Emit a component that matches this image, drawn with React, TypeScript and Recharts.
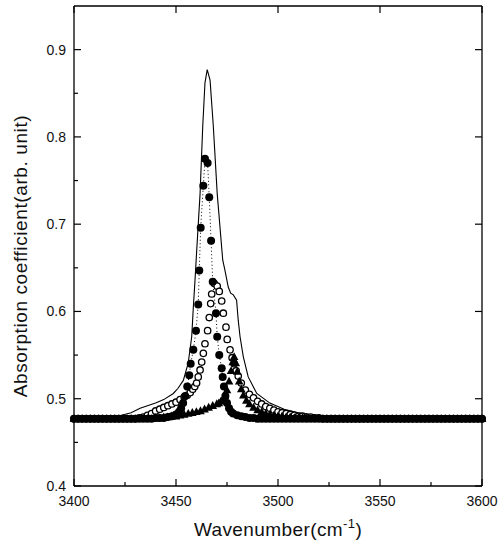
import React from 'react';
import { ComposedChart, Line, XAxis, YAxis } from 'recharts';

const wavenumberMajorTicks = [3400, 3450, 3500, 3550, 3600];
const wavenumberMinorTicks = [3425, 3475, 3525, 3575];
const absorptionMajorTicks = [0.4, 0.5, 0.6, 0.7, 0.8, 0.9];
const absorptionMinorTicks = [0.45, 0.55, 0.65, 0.75, 0.85];

// solid thin line [wavenumber, absorption]
const solidLine: [number, number][] = [
  [3400, 0.477], [3420, 0.479], [3428, 0.484], [3432.4, 0.489], [3440, 0.495], [3444, 0.499],
  [3448.7, 0.506], [3451, 0.512], [3453.6, 0.521], [3456, 0.541], [3457.7, 0.571], [3458.5, 0.605],
  [3459.3, 0.635], [3460.1, 0.668], [3461.8, 0.735], [3463.1, 0.812], [3464.2, 0.862], [3465.3, 0.877],
  [3466.7, 0.865], [3468.3, 0.812], [3470.2, 0.735], [3472.9, 0.659], [3474, 0.647], [3475.6, 0.628],
  [3476.8, 0.621], [3478.1, 0.619], [3479.7, 0.613], [3480.5, 0.590], [3481.4, 0.571], [3483, 0.548],
  [3485.4, 0.525], [3489.6, 0.506], [3496, 0.495], [3503, 0.488], [3510, 0.484], [3518, 0.481],
  [3528, 0.478], [3545, 0.477], [3600, 0.477],
];

// filled circles joined by a dotted line
const filledCircles: [number, number][] = [
  [3400, 0.477], [3402, 0.477], [3404, 0.477], [3406, 0.477], [3408, 0.477], [3410, 0.477], [3412, 0.477],
  [3414, 0.477], [3416, 0.477], [3418, 0.477], [3420, 0.477], [3422, 0.477], [3424, 0.477], [3426, 0.477],
  [3428, 0.477], [3430, 0.477], [3432, 0.477], [3434, 0.477], [3436, 0.477], [3438, 0.477], [3440, 0.478],
  [3442, 0.478], [3444, 0.478], [3446, 0.479], [3448, 0.480], [3450, 0.482], [3451.5, 0.485], [3452.5, 0.489],
  [3453.5, 0.495], [3454.5, 0.503], [3455.5, 0.514], [3456.5, 0.527], [3457.2, 0.540], [3458.5, 0.556],
  [3459.8, 0.578], [3460.9, 0.608], [3461.4, 0.647], [3462.1, 0.696], [3463.4, 0.744], [3464.2, 0.775],
  [3465.5, 0.770], [3466.3, 0.731], [3467.2, 0.681], [3468.0, 0.634], [3469.6, 0.598], [3470.2, 0.571],
  [3471.2, 0.550], [3472.4, 0.535], [3472.9, 0.525], [3473.5, 0.514], [3474.2, 0.503], [3475, 0.495],
  [3476, 0.489], [3477, 0.485], [3478, 0.483], [3480, 0.481], [3482, 0.480], [3484, 0.479], [3486, 0.478],
  [3488, 0.478], [3490, 0.477], [3492, 0.477], [3494, 0.477], [3496, 0.477], [3498, 0.477], [3500, 0.477],
  [3502, 0.477], [3504, 0.477], [3506, 0.477], [3508, 0.477], [3510, 0.477], [3512, 0.477], [3514, 0.477],
  [3516, 0.477], [3518, 0.477], [3520, 0.477], [3522, 0.477], [3524, 0.477], [3526, 0.477], [3528, 0.477],
  [3530, 0.477], [3532, 0.477], [3534, 0.477], [3536, 0.477], [3538, 0.477], [3540, 0.477], [3542, 0.477],
  [3544, 0.477], [3546, 0.477], [3548, 0.477], [3550, 0.477], [3552, 0.477], [3554, 0.477], [3556, 0.477],
  [3558, 0.477], [3560, 0.477], [3562, 0.477], [3564, 0.477], [3566, 0.477], [3568, 0.477], [3570, 0.477],
  [3572, 0.477], [3574, 0.477], [3576, 0.477], [3578, 0.477], [3580, 0.477], [3582, 0.477], [3584, 0.477],
  [3586, 0.477], [3588, 0.477], [3590, 0.477], [3592, 0.477], [3594, 0.477], [3596, 0.477], [3598, 0.477],
  [3600, 0.477],
];

// open circles
const openCircles: [number, number][] = [
  [3400, 0.477], [3402, 0.477], [3404, 0.477], [3406, 0.477], [3408, 0.477], [3410, 0.477], [3412, 0.477],
  [3414, 0.477], [3416, 0.477], [3418, 0.477], [3420, 0.477], [3422, 0.477], [3424, 0.477], [3426, 0.477],
  [3428, 0.477], [3430, 0.477], [3432, 0.478], [3434, 0.479], [3436, 0.481], [3438, 0.483], [3440, 0.486],
  [3442, 0.488], [3444, 0.490], [3446, 0.492], [3448, 0.494], [3450, 0.496], [3452, 0.499], [3454, 0.502],
  [3455.5, 0.504], [3457, 0.507], [3458.2, 0.511], [3459.2, 0.514], [3460.1, 0.518], [3460.9, 0.525],
  [3461.8, 0.533], [3462.6, 0.542], [3463.4, 0.552], [3464.2, 0.563], [3465.5, 0.578], [3466.3, 0.593],
  [3467.0, 0.609], [3467.5, 0.620], [3468.8, 0.632], [3470.2, 0.629], [3471.2, 0.623], [3472.4, 0.612],
  [3473.2, 0.598], [3474.5, 0.582], [3475.1, 0.568], [3476.5, 0.556], [3477.5, 0.547], [3478.5, 0.540],
  [3479.5, 0.532], [3480.5, 0.526], [3482, 0.518], [3484, 0.510], [3486, 0.505], [3488, 0.501],
  [3490, 0.497], [3492, 0.494], [3494, 0.491], [3496, 0.489], [3498, 0.487], [3500, 0.485], [3502, 0.484],
  [3504, 0.483], [3506, 0.482], [3508, 0.481], [3510, 0.480], [3512, 0.480], [3514, 0.479], [3516, 0.479],
  [3518, 0.478], [3520, 0.478], [3522, 0.477], [3524, 0.477], [3526, 0.477], [3528, 0.477], [3530, 0.477],
  [3532, 0.477], [3534, 0.477], [3536, 0.477], [3538, 0.477], [3540, 0.477], [3542, 0.477], [3544, 0.477],
  [3546, 0.477], [3548, 0.477], [3550, 0.477], [3552, 0.477], [3554, 0.477], [3556, 0.477], [3558, 0.477],
  [3560, 0.477], [3562, 0.477], [3564, 0.477], [3566, 0.477], [3568, 0.477], [3570, 0.477], [3572, 0.477],
  [3574, 0.477], [3576, 0.477], [3578, 0.477], [3580, 0.477], [3582, 0.477], [3584, 0.477], [3586, 0.477],
  [3588, 0.477], [3590, 0.477], [3592, 0.477], [3594, 0.477], [3596, 0.477], [3598, 0.477], [3600, 0.477],
];

// filled triangles
const filledTriangles: [number, number][] = [
  [3400, 0.477], [3402, 0.477], [3404, 0.477], [3406, 0.477], [3408, 0.477], [3410, 0.477], [3412, 0.477],
  [3414, 0.477], [3416, 0.477], [3418, 0.477], [3420, 0.477], [3422, 0.477], [3424, 0.477], [3426, 0.477],
  [3428, 0.477], [3430, 0.477], [3432, 0.477], [3434, 0.477], [3436, 0.477], [3438, 0.477], [3440, 0.478],
  [3442, 0.478], [3444, 0.479], [3446, 0.479], [3448, 0.480], [3450, 0.480], [3452, 0.481], [3454, 0.482],
  [3456, 0.483], [3458, 0.484], [3460, 0.485], [3462, 0.486], [3464, 0.488], [3466, 0.490], [3468, 0.492],
  [3470, 0.494], [3471, 0.495], [3472, 0.497], [3473, 0.499], [3474, 0.503], [3475, 0.510], [3476, 0.520],
  [3477, 0.532], [3477.8, 0.542], [3478.5, 0.548], [3479.3, 0.541], [3480, 0.531], [3481, 0.520],
  [3482, 0.511], [3483, 0.504], [3484.5, 0.498], [3486, 0.494], [3488, 0.490], [3490, 0.487], [3492, 0.485],
  [3494, 0.483], [3496, 0.482], [3498, 0.481], [3500, 0.480], [3502, 0.480], [3504, 0.479], [3506, 0.479],
  [3508, 0.478], [3510, 0.478], [3512, 0.478], [3514, 0.478], [3516, 0.477], [3518, 0.477], [3520, 0.477],
  [3522, 0.477], [3524, 0.477], [3526, 0.477], [3528, 0.477], [3530, 0.477], [3532, 0.477], [3534, 0.477],
  [3536, 0.477], [3538, 0.477], [3540, 0.477], [3542, 0.477], [3544, 0.477], [3546, 0.477], [3548, 0.477],
  [3550, 0.477], [3552, 0.477], [3554, 0.477], [3556, 0.477], [3558, 0.477], [3560, 0.477], [3562, 0.477],
  [3564, 0.477], [3566, 0.477], [3568, 0.477], [3570, 0.477], [3572, 0.477], [3574, 0.477], [3576, 0.477],
  [3578, 0.477], [3580, 0.477], [3582, 0.477], [3584, 0.477], [3586, 0.477], [3588, 0.477], [3590, 0.477],
  [3592, 0.477], [3594, 0.477], [3596, 0.477], [3598, 0.477], [3600, 0.477],
];

const toRows = (pts: [number, number][]) => pts.map(([wn, a]) => ({ wn, a }));

const FONT = '"Liberation Sans", Arial, Helvetica, sans-serif';
const INK = '#000';
const GAP = 8;
const MAJOR = 7;
const MINOR = 4;

const BottomTick = (props: any) => {
  const { x, y, payload } = props;
  const v = payload.value;
  const isMajor = wavenumberMajorTicks.includes(v);
  const axisY = y - GAP;
  return (
    <g>
      <line x1={x} x2={x} y1={axisY} y2={axisY - (isMajor ? MAJOR : MINOR)} stroke={INK} strokeWidth={1.2} />
      {isMajor && (
        <text x={x} y={axisY + 20} textAnchor="middle" fontFamily={FONT} fontSize={14} fill="#111">
          {v}
        </text>
      )}
    </g>
  );
};

const LeftTick = (props: any) => {
  const { x, y, payload } = props;
  const v = payload.value;
  const isMajor = absorptionMajorTicks.some((t) => Math.abs(t - v) < 1e-9);
  const axisX = x + GAP;
  return (
    <g>
      <line x1={axisX} x2={axisX + (isMajor ? MAJOR : MINOR)} y1={y} y2={y} stroke={INK} strokeWidth={1.2} />
      {isMajor && (
        <text x={axisX - 8} y={y} dy="0.36em" textAnchor="end" fontFamily={FONT} fontSize={14} fill="#111">
          {v.toFixed(1)}
        </text>
      )}
    </g>
  );
};

const TopTick = (props: any) => {
  const { x, y } = props;
  return <line x1={x} x2={x} y1={y} y2={y + MAJOR} stroke={INK} strokeWidth={1.2} />;
};

const RightTick = (props: any) => {
  const { x, y } = props;
  return <line x1={x} x2={x - MAJOR} y1={y} y2={y} stroke={INK} strokeWidth={1.2} />;
};

const FilledDot = (props: any) => {
  const { cx, cy, index } = props;
  if (cx == null || cy == null) return <g key={`f-${index}`} />;
  return <circle key={`f-${index}`} cx={cx} cy={cy} r={4} fill={INK} stroke="none" />;
};

const OpenDot = (props: any) => {
  const { cx, cy, index } = props;
  if (cx == null || cy == null) return <g key={`o-${index}`} />;
  return <circle key={`o-${index}`} cx={cx} cy={cy} r={3.2} fill="#fff" stroke={INK} strokeWidth={1.3} />;
};

const TriDot = (props: any) => {
  const { cx, cy, index } = props;
  if (cx == null || cy == null) return <g key={`t-${index}`} />;
  const d = `M${cx},${cy - 4.6}L${cx - 4.3},${cy + 3.2}L${cx + 4.3},${cy + 3.2}Z`;
  return <path key={`t-${index}`} d={d} fill={INK} stroke="none" />;
};

const YTitle = (props: any) => {
  const vb = props.viewBox || {};
  const cx = vb.x + 27;
  const cy = vb.y + vb.height / 2 + 10;
  return (
    <text
      x={cx}
      y={cy}
      transform={`rotate(-90, ${cx}, ${cy})`}
      textAnchor="middle"
      fontFamily={FONT}
      fontSize={19}
      letterSpacing={0.6}
      fill="#111"
    >
      Absorption coefficient(arb. unit)
    </text>
  );
};

const XTitle = (props: any) => {
  const vb = props.viewBox || {};
  const cx = vb.x + vb.width / 2;
  const cy = vb.y + 50;
  return (
    <text x={cx} y={cy} textAnchor="middle" fontFamily={FONT} fontSize={19} letterSpacing={0.4} fill="#111">
      Wavenumber(cm
      <tspan fontSize={13} dy={-8}>-1</tspan>
      <tspan dy={8}>)</tspan>
    </text>
  );
};

export default function App() {
  return (
    <div style={{ position: 'absolute', left: 0, top: 0, width: 502, height: 548, background: '#fff' }}>
      <ComposedChart width={502} height={548} margin={{ top: 5, right: 19, bottom: 0, left: 0 }}>
        <XAxis
          xAxisId="main"
          dataKey="wn"
          type="number"
          domain={[3400, 3600]}
          ticks={[...wavenumberMajorTicks, ...wavenumberMinorTicks]}
          interval={0}
          height={62}
          tickSize={0}
          tickMargin={GAP}
          tickLine={false}
          axisLine={{ stroke: INK, strokeWidth: 1.3 }}
          tick={<BottomTick />}
          label={<XTitle />}
        />
        <XAxis
          xAxisId="top"
          orientation="top"
          dataKey="wn"
          type="number"
          domain={[3400, 3600]}
          ticks={wavenumberMajorTicks}
          interval={0}
          height={1}
          tickSize={0}
          tickMargin={0}
          tickLine={false}
          axisLine={{ stroke: INK, strokeWidth: 1.3 }}
          tick={<TopTick />}
        />
        <YAxis
          yAxisId="main"
          dataKey="a"
          type="number"
          domain={[0.4, 0.95]}
          ticks={[...absorptionMajorTicks, ...absorptionMinorTicks]}
          interval={0}
          width={74}
          tickSize={0}
          tickMargin={GAP}
          tickLine={false}
          axisLine={{ stroke: INK, strokeWidth: 1.3 }}
          tick={<LeftTick />}
          label={<YTitle />}
        />
        <YAxis
          yAxisId="right"
          orientation="right"
          dataKey="a"
          type="number"
          domain={[0.4, 0.95]}
          ticks={absorptionMajorTicks}
          interval={0}
          width={1}
          tickSize={0}
          tickMargin={0}
          tickLine={false}
          axisLine={{ stroke: INK, strokeWidth: 1.3 }}
          tick={<RightTick />}
        />
        {/* invisible series that binds the framing top and right axes */}
        <Line
          xAxisId="top"
          yAxisId="right"
          data={toRows(solidLine)}
          dataKey="a"
          type="linear"
          stroke="none"
          dot={false}
          activeDot={false}
          legendType="none"
          isAnimationActive={false}
        />
        <Line
          xAxisId="main"
          yAxisId="main"
          data={toRows(openCircles)}
          dataKey="a"
          type="linear"
          stroke="none"
          dot={OpenDot}
          activeDot={false}
          isAnimationActive={false}
        />
        <Line
          xAxisId="main"
          yAxisId="main"
          data={toRows(filledTriangles)}
          dataKey="a"
          type="linear"
          stroke="none"
          dot={TriDot}
          activeDot={false}
          isAnimationActive={false}
        />
        <Line
          xAxisId="main"
          yAxisId="main"
          data={toRows(filledCircles)}
          dataKey="a"
          type="linear"
          stroke={INK}
          strokeWidth={1}
          strokeDasharray="1 2.5"
          dot={FilledDot}
          activeDot={false}
          isAnimationActive={false}
        />
        <Line
          xAxisId="main"
          yAxisId="main"
          data={toRows(solidLine)}
          dataKey="a"
          type="linear"
          stroke={INK}
          strokeWidth={1.1}
          dot={false}
          activeDot={false}
          isAnimationActive={false}
        />
      </ComposedChart>
    </div>
  );
}
